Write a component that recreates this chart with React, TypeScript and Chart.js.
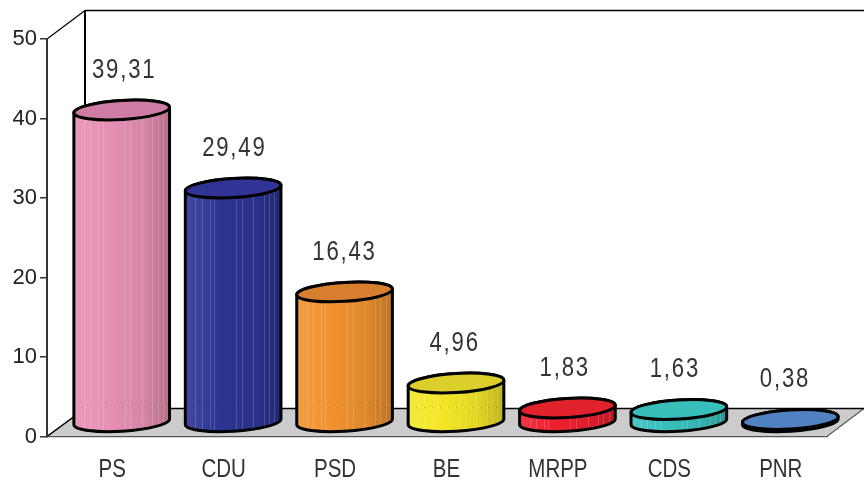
import React, { useEffect, useRef } from "react";
import { Chart, BarController, BarElement, CategoryScale, LinearScale } from "chart.js";

const categories = ["PS", "CDU", "PSD", "BE", "MRPP", "CDS", "PNR"];
const shareValues = [39.31, 29.49, 16.43, 4.96, 1.83, 1.63, 0.38];
const sideColors = ["#e690b5", "#2d3592", "#f0932f", "#f4e626", "#ee2030", "#38c0bc", "#2d4f86"];
const capColors = ["#cf7ca5", "#313494", "#d77f2e", "#dccf2c", "#e1212c", "#38bebb", "#4f81c3"];
const stripeFractions = [0.107, 0.17, 0.255, 0.3, 0.53, 0.59, 0.71, 0.82, 0.874, 0.93];

const DEPTH_X = 38;
const DEPTH_Y = 28;
const TILT = (-3.5 * Math.PI) / 180;
const CAP_RY = 9.5;
const DARK = "#333333";
const NARROW = 0.82;

function shade(hex: string, f: number) {
  const n = parseInt(hex.slice(1), 16);
  const c = [(n >> 16) & 255, (n >> 8) & 255, n & 255].map((v) =>
    Math.max(0, Math.min(255, Math.round(f >= 1 ? v + (255 - v) * (f - 1) : v * f)))
  );
  return `rgb(${c[0]},${c[1]},${c[2]})`;
}

class CylinderElement extends BarElement {
  static id = "cylinder";
  draw(ctx: CanvasRenderingContext2D) {
    const { x, y, base, width } = (this as any).getProps(["x", "y", "base", "width"], true);
    const opts = (this as any).options;
    const context = (this as any).$context;
    const cap = context.dataset.capColors[context.dataIndex];
    const cx = x + DEPTH_X / 2;
    const topY = y - DEPTH_Y / 2;
    const botY = base - DEPTH_Y / 2;
    const rx = width / 2;

    ctx.save();
    const path = new Path2D();
    path.ellipse(cx, botY, rx, CAP_RY, TILT, 0, Math.PI);
    path.ellipse(cx, topY, rx, CAP_RY, TILT, Math.PI, Math.PI * 2);
    path.closePath();

    const mid = opts.backgroundColor as string;
    const g = ctx.createLinearGradient(cx - rx, 0, cx + rx, 0);
    g.addColorStop(0, shade(mid, 1.1));
    g.addColorStop(0.35, mid);
    g.addColorStop(0.72, shade(mid, 0.93));
    g.addColorStop(1, shade(mid, 0.78));
    ctx.fillStyle = g;
    ctx.fill(path);

    ctx.save();
    ctx.clip(path);
    ctx.lineWidth = 1;
    ctx.strokeStyle = "rgba(255,255,255,0.17)";
    for (const f of stripeFractions) {
      const sx = Math.round(cx - rx + f * width) + 0.5;
      ctx.beginPath();
      ctx.moveTo(sx, topY - 12);
      ctx.lineTo(sx, botY + 12);
      ctx.stroke();
    }
    ctx.setLineDash([1, 7]);
    ctx.strokeStyle = "rgba(0,0,0,0.3)";
    ctx.beginPath();
    ctx.moveTo(cx - rx, base - DEPTH_Y);
    ctx.lineTo(cx + rx, base - DEPTH_Y);
    ctx.stroke();
    ctx.restore();

    ctx.lineWidth = 3;
    ctx.strokeStyle = "#000000";
    ctx.stroke(path);
    ctx.beginPath();
    ctx.ellipse(cx, topY, rx, CAP_RY, TILT, 0, Math.PI * 2);
    ctx.fillStyle = cap;
    ctx.fill();
    ctx.stroke();
    ctx.restore();
  }
}

class CylinderController extends BarController {
  static id = "cylinder";
  static defaults = { ...(BarController as any).defaults, dataElementType: "cylinder" };
  static overrides = (BarController as any).overrides;
}

class NarrowCategoryScale extends CategoryScale {
  static id = "narrowCategory";
  static defaults = (CategoryScale as any).defaults;
  drawLabels(area: any) {
    const ctx: CanvasRenderingContext2D = (this as any).ctx;
    for (const item of (this as any).getLabelItems(area)) {
      ctx.save();
      ctx.translate(item.options.translation[0], item.options.translation[1]);
      ctx.scale(NARROW, 1);
      ctx.font = item.font.string;
      ctx.fillStyle = item.options.color;
      ctx.textAlign = "center";
      ctx.textBaseline = item.options.textBaseline;
      ctx.fillText(item.label, 0, item.textOffset);
      ctx.restore();
    }
  }
}

const roomPlugin = {
  id: "room",
  beforeDraw(chart: any) {
    const { ctx, chartArea: a } = chart;
    const l = a.left, r = a.right, t = a.top, b = a.bottom;
    const bx = l + DEPTH_X, by = b - DEPTH_Y;
    ctx.save();
    ctx.beginPath();
    ctx.moveTo(l, b);
    ctx.lineTo(r, b);
    ctx.lineTo(r + DEPTH_X - 1, by);
    ctx.lineTo(bx, by);
    ctx.closePath();
    ctx.fillStyle = "#cccccc";
    ctx.fill();
    ctx.strokeStyle = "#555555";
    ctx.lineWidth = 1.2;
    ctx.stroke();
    ctx.strokeStyle = "#000000";
    ctx.lineWidth = 1.5;
    ctx.beginPath();
    ctx.moveTo(bx, by);
    ctx.lineTo(r + DEPTH_X, by);
    ctx.lineTo(r + DEPTH_X, t - DEPTH_Y - 0.5);
    ctx.lineTo(bx, t - DEPTH_Y - 0.5);
    ctx.stroke();
    ctx.lineWidth = 2;
    ctx.beginPath();
    ctx.moveTo(bx, t - DEPTH_Y - 0.5);
    ctx.lineTo(bx, by);
    ctx.stroke();
    ctx.lineWidth = 1.2;
    ctx.beginPath();
    ctx.moveTo(l, t);
    ctx.lineTo(bx, t - DEPTH_Y - 0.5);
    ctx.moveTo(l, b);
    ctx.lineTo(bx, by);
    ctx.stroke();
    ctx.restore();
  },
};

const valueLabelPlugin = {
  id: "valueLabels",
  afterDatasetsDraw(chart: any) {
    const { ctx } = chart;
    const meta = chart.getDatasetMeta(0);
    meta.data.forEach((bar: any, i: number) => {
      const text = shareValues[i].toFixed(2).replace(".", ",");
      ctx.save();
      ctx.translate(bar.x + DEPTH_X / 2 + 2.5 - 1.3 * i, bar.y - DEPTH_Y / 2 - 39.5);
      ctx.scale(NARROW, 1);
      ctx.font = "27px 'Liberation Sans'";
      (ctx as any).letterSpacing = "2.2px";
      ctx.fillStyle = DARK;
      ctx.textAlign = "center";
      ctx.textBaseline = "middle";
      ctx.fillText(text, 0, 0);
      ctx.restore();
    });
  },
};

Chart.register(NarrowCategoryScale as any, LinearScale, CylinderElement as any, CylinderController as any);

export default function App() {
  const ref = useRef<HTMLCanvasElement>(null);
  useEffect(() => {
    const chart = new Chart(ref.current!, {
      type: "cylinder" as any,
      data: {
        labels: categories,
        datasets: [
          {
            data: shareValues,
            backgroundColor: sideColors,
            capColors,
            barPercentage: 0.86,
            categoryPercentage: 1,
            clip: false,
          } as any,
        ],
      },
      options: {
        responsive: false,
        animation: false,
        events: [],
        layout: { padding: { top: 39, right: 37, left: 0, bottom: 0 } },
        plugins: { legend: { display: false }, tooltip: { enabled: false } } as any,
        scales: {
          x: {
            type: "narrowCategory",
            offset: true,
            afterFit: (s: any) => { s.height = 46.5; },
            grid: { display: false },
            border: { color: "#555555", width: 1.2 },
            ticks: {
              maxRotation: 0,
              autoSkip: false,
              padding: 11,
              labelOffset: 9.5,
              color: DARK,
              font: { family: "'Liberation Sans'", size: 25 },
            },
          },
          y: {
            type: "linear",
            min: 0,
            max: 50,
            afterFit: (s: any) => { s.width = 47; },
            grid: { drawOnChartArea: false, tickLength: 7, color: DARK, lineWidth: 1.5 },
            border: { color: DARK, width: 2 },
            ticks: {
              stepSize: 10,
              padding: 3,
              color: "#222222",
              font: { family: "'Liberation Sans'", size: 22 },
            },
          },
        },
      },
      plugins: [roomPlugin, valueLabelPlugin],
    } as any);
    return () => chart.destroy();
  }, []);
  return (
    <div style={{ position: "absolute", left: 0, top: 0, width: 864, height: 483, background: "#fff" }}>
      <canvas ref={ref} width={864} height={483} style={{ display: "block" }} />
    </div>
  );
}
